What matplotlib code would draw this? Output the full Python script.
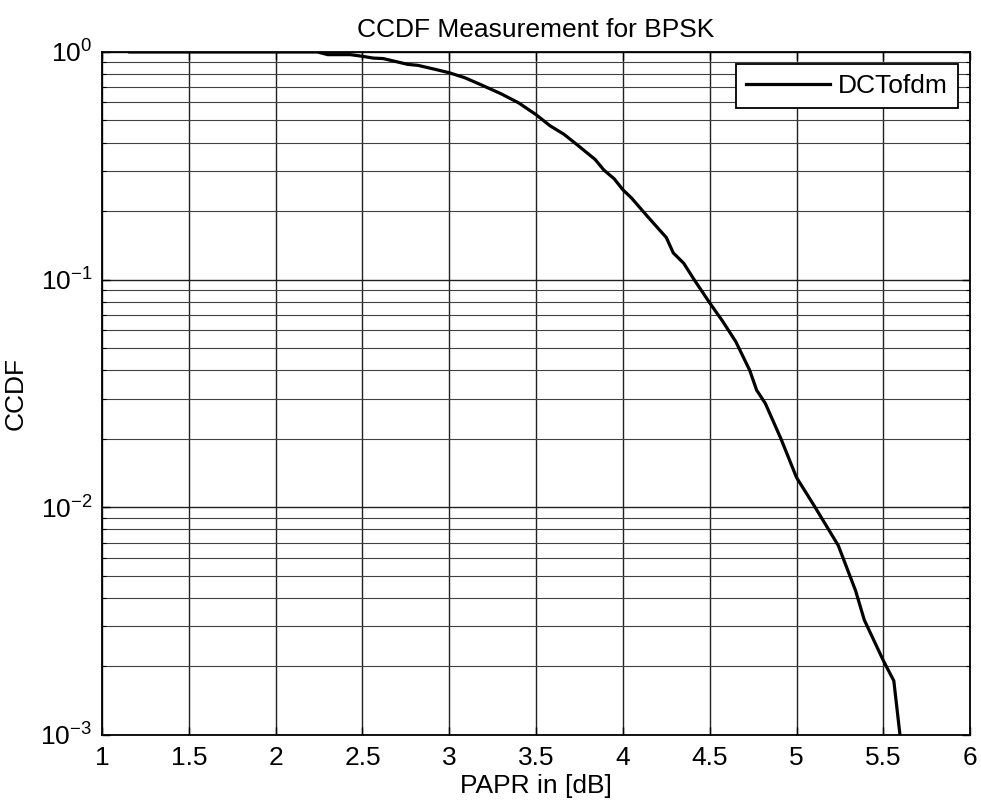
import numpy as np
import matplotlib
matplotlib.use('Agg')
import matplotlib.pyplot as plt

plt.rcParams['font.family'] = ['Liberation Sans', 'DejaVu Sans']
plt.rcParams['mathtext.fontset'] = 'custom'
plt.rcParams['mathtext.rm'] = 'Liberation Sans'
plt.rcParams['mathtext.default'] = 'regular'
plt.rcParams['axes.unicode_minus'] = False

# values
papr_db = [1.16, 2.24, 2.30, 2.43, 2.50, 2.56, 2.62, 2.76, 2.82, 2.92, 3.00, 3.09,
           3.18, 3.30, 3.40, 3.50, 3.58, 3.66, 3.74, 3.84, 3.89, 3.95, 4.00, 4.05,
           4.14, 4.25, 4.29, 4.35, 4.41, 4.50, 4.575, 4.65, 4.73, 4.77, 4.82, 4.91,
           5.00, 5.10, 5.24, 5.34, 5.39, 5.50, 5.56, 5.61]
ccdf = [1.0, 1.0, 0.973, 0.973, 0.957, 0.94, 0.935, 0.882, 0.873, 0.838, 0.810, 0.770,
        0.719, 0.654, 0.597, 0.530, 0.474, 0.435, 0.389, 0.337, 0.303, 0.277, 0.248, 0.228,
        0.19, 0.153, 0.131, 0.118, 0.100, 0.079, 0.0655, 0.0534, 0.040, 0.0327, 0.0286, 0.020,
        0.0135, 0.0102, 0.0068, 0.0043, 0.0032, 0.00212, 0.00173, 0.0008]

x_ticks = [1, 1.5, 2, 2.5, 3, 3.5, 4, 4.5, 5, 5.5, 6]
x_labels = ['1', '1.5', '2', '2.5', '3', '3.5', '4', '4.5', '5', '5.5', '6']

fs = 19
fig = plt.figure(figsize=(9.81, 8.09), dpi=100)
ax = fig.add_axes([0.104, 0.0915, 0.885, 0.8443])

ax.semilogy(papr_db, ccdf, color='black', lw=2.3, label='DCTofdm')

ax.set_xlim(1, 6)
ax.set_ylim(1e-3, 1)
ax.set_xticks(x_ticks)
ax.set_xticklabels(x_labels)

ax.grid(True, which='major', color='#202020', lw=1.0)
ax.grid(True, which='minor', axis='y', color='#404040', lw=0.8)

for sp in ax.spines.values():
    sp.set_linewidth(1.3)
ax.tick_params(which='both', direction='in', top=True, right=True, labelsize=fs)
ax.tick_params(which='major', length=6, width=1.0)
ax.tick_params(which='minor', length=3, width=0.8)
ax.tick_params(axis='x', pad=8)
ax.tick_params(axis='y', pad=7)

ax.set_title('CCDF Measurement for BPSK', fontsize=fs, pad=11)
ax.set_xlabel('PAPR in [dB]', fontsize=fs, labelpad=3)
ax.set_ylabel('CCDF', fontsize=fs, labelpad=9)

leg = ax.legend(loc='upper right', bbox_to_anchor=(0.986, 0.982), borderaxespad=0,
                fontsize=fs, fancybox=False, framealpha=1, edgecolor='black',
                handlelength=3.2, handletextpad=0.3, borderpad=0.38)
leg.get_frame().set_linewidth(1.3)

fig.savefig('out.png', dpi=100)
